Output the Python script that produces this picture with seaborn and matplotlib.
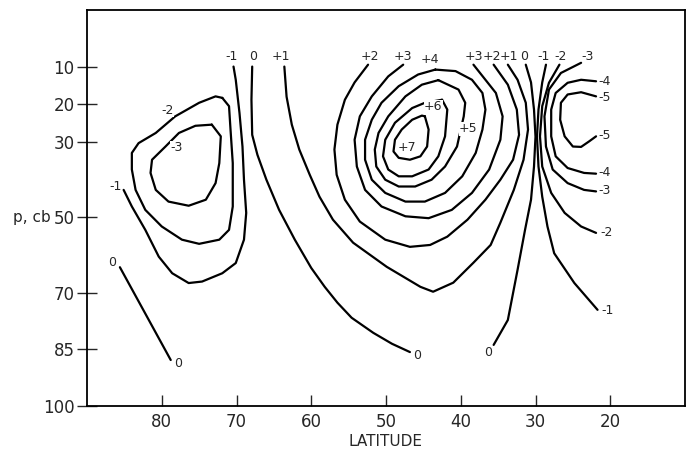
import matplotlib
matplotlib.use('Agg')
import matplotlib.pyplot as plt
import seaborn as sns
import pandas as pd

# contour lines: latitude (deg) and pressure (cb)
lat_m3 = [73.3, 72.1, 72.3, 72.8, 74.1, 76.4, 79.1, 80.8, 81.5, 81.3, 79.5, 77.7, 75.5, 73.3]
p_m3 = [25.4, 28.5, 35.6, 40.9, 45.3, 46.9, 45.8, 42.7, 38.2, 34.7, 31.2, 27.6, 25.7, 25.4]

lat_m2a = [71.9, 71.0, 70.8, 70.5, 70.5, 71.0, 72.3, 75.0, 77.3, 80.0, 82.2, 83.5, 84.0, 84.0, 83.1, 80.8, 78.2, 75.0, 72.8, 71.9]
p_m2a = [18.3, 20.5, 26.7, 35.6, 47.1, 53.3, 55.9, 57.0, 55.9, 52.4, 48.0, 42.7, 37.3, 32.9, 30.3, 27.6, 23.2, 19.6, 17.9, 18.3]

lat_m1a = [85.1, 84.0, 82.2, 80.4, 78.6, 76.4, 74.6, 71.9, 70.1, 69.0, 68.7, 69.0, 69.2, 69.6, 70.1, 70.4]
p_m1a = [42.7, 47.1, 53.3, 60.4, 64.8, 67.4, 67.0, 64.8, 62.1, 55.9, 48.8, 40.0, 31.2, 22.3, 13.5, 10.0]

lat_0a = [85.6, 82.2, 78.8]
p_0a = [63.2, 75.5, 87.8]

lat_0b = [67.9, 68.0, 67.9, 67.2, 66.0, 64.3, 62.2, 60.0, 58.2, 56.5, 54.6, 51.7, 49.2, 46.8]
p_0b = [10.0, 18.8, 28.1, 33.4, 40.0, 48.0, 55.9, 63.4, 68.4, 72.6, 76.6, 80.6, 83.5, 85.7]

lat_p1 = [63.6, 63.3, 62.6, 61.6, 60.2, 58.9, 57.1, 54.4, 49.9, 45.4, 43.7, 41.0, 38.3, 36.0, 34.7, 32.9, 31.6, 31.0, 31.3, 32.4, 33.7]
p_p1 = [10.0, 18.0, 25.4, 32.0, 38.7, 44.5, 50.6, 56.7, 63.1, 68.4, 69.7, 67.3, 62.0, 57.3, 51.4, 42.7, 34.7, 26.7, 19.6, 13.5, 9.5]

lat_p2 = [52.4, 54.2, 55.5, 56.5, 56.9, 56.6, 55.5, 53.5, 50.1, 46.8, 44.1, 41.8, 39.1, 36.7, 34.7, 33.0, 32.2, 32.5, 33.7, 35.6]
p_p2 = [9.5, 14.2, 18.8, 25.4, 32.0, 38.7, 45.3, 51.1, 55.9, 57.8, 57.3, 55.1, 50.6, 45.3, 40.0, 34.7, 28.1, 21.4, 14.8, 9.5]

lat_p3 = [47.7, 49.7, 51.9, 53.5, 54.2, 53.9, 52.8, 50.6, 47.4, 44.3, 41.2, 38.5, 36.2, 34.7, 34.4, 35.3, 36.7, 38.3]
p_p3 = [9.5, 12.6, 17.9, 23.2, 29.4, 36.5, 42.7, 47.1, 49.7, 50.2, 48.0, 43.5, 37.3, 29.4, 23.2, 17.0, 13.5, 9.5]

lat_p4 = [43.4, 40.7, 38.5, 37.1, 36.7, 37.1, 38.0, 39.8, 42.1, 44.8, 47.4, 50.1, 51.9, 52.8, 52.8, 51.9, 50.6, 48.3, 45.7, 43.4]
p_p4 = [10.8, 11.2, 13.5, 17.0, 21.4, 26.7, 32.9, 39.1, 43.5, 45.8, 45.8, 43.5, 40.0, 34.7, 29.4, 24.1, 19.6, 15.2, 12.1, 10.8]

lat_p5 = [43.0, 40.3, 39.4, 39.6, 40.0, 40.5, 42.1, 43.9, 46.1, 48.3, 50.1, 51.3, 51.5, 51.0, 49.7, 47.4, 45.2, 43.0]
p_p5 = [13.6, 16.1, 19.6, 23.2, 26.7, 31.2, 36.5, 40.0, 41.8, 41.8, 40.0, 36.5, 32.0, 27.6, 23.2, 17.9, 14.8, 13.6]

lat_p6 = [42.5, 41.8, 42.1, 43.0, 44.3, 46.5, 48.3, 49.7, 50.4, 50.1, 48.8, 46.5, 44.8, 42.5]
p_p6 = [18.8, 21.4, 28.5, 33.8, 37.3, 39.1, 39.1, 37.3, 33.8, 29.4, 24.9, 21.0, 19.6, 18.8]

lat_p7 = [44.8, 44.3, 44.5, 45.4, 46.8, 48.3, 49.0, 48.8, 47.9, 46.5, 45.2, 44.8]
p_p7 = [23.2, 26.7, 31.2, 33.8, 34.7, 34.2, 32.5, 29.4, 26.7, 24.1, 23.0, 23.2]

lat_0c = [31.3, 30.6, 30.2, 30.0, 30.2, 30.6, 31.4, 32.4, 33.7, 35.6]
p_0c = [9.5, 14.2, 21.4, 28.6, 36.5, 45.3, 53.3, 63.9, 77.2, 83.8]

lat_m1b = [28.6, 29.1, 29.6, 29.8, 29.6, 29.1, 28.4, 27.5, 24.8, 21.7]
p_m1b = [9.5, 14.2, 21.4, 28.6, 36.5, 44.5, 52.4, 59.5, 67.4, 74.5]

lat_m2b = [26.8, 28.2, 29.1, 29.4, 29.1, 27.9, 26.1, 23.9, 21.9]
p_m2b = [9.5, 14.3, 20.5, 28.5, 36.5, 43.5, 48.8, 52.4, 54.1]

lat_m3b = [23.9, 26.6, 28.2, 28.8, 28.6, 27.7, 25.7, 23.5, 21.9]
p_m3b = [9.0, 11.7, 16.1, 23.2, 31.2, 37.3, 40.9, 42.7, 43.1]

lat_m4 = [21.9, 23.9, 25.7, 27.3, 27.9, 27.9, 27.3, 25.7, 23.5, 21.9]
p_m4 = [13.9, 13.5, 14.3, 17.0, 21.4, 28.5, 33.8, 36.9, 38.2, 38.4]

lat_m5 = [21.9, 23.9, 25.7, 26.6, 26.7, 26.1, 25.0, 23.9, 22.8, 21.9]
p_m5 = [17.9, 16.8, 17.4, 19.6, 24.1, 28.5, 31.2, 31.3, 29.8, 28.5]

# contour labels (the last five sit on their lines)
lab_text = ['-1', '0', '+1', '+2', '+3', '+4', '+3', '+2', '+1', '0', '-1', '-2', '-3',
            '-4', '-5', '-5', '-4', '-3', '-2', '-1',
            '-1', '0', '0', '0', '0',
            '-2', '-3', '+6', '+5', '+7']
lab_lat = [70.6, 67.8, 64.0, 52.2, 47.7, 44.1, 38.2, 35.8, 33.5, 31.5, 28.9, 26.6, 23.1,
           20.8, 20.8, 20.8, 20.8, 20.8, 20.5, 20.3,
           86.2, 86.7, 77.8, 45.8, 36.4,
           79.2, 78.0, 43.7, 39.0, 47.2]
lab_p = [7.3, 7.3, 7.3, 7.3, 7.3, 8.1, 7.3, 7.3, 7.3, 7.3, 7.3, 7.3, 7.3,
         14.0, 18.2, 28.3, 38.1, 42.9, 54.1, 74.8,
         41.9, 62.0, 88.6, 86.5, 85.9,
         21.7, 31.5, 20.6, 26.5, 31.5]
n_on_line = 5

x_ticks = [80, 70, 60, 50, 40, 30, 20]
y_ticks = [10, 20, 30, 50, 70, 85, 100]

lines = [(lat_m3, p_m3), (lat_m2a, p_m2a), (lat_m1a, p_m1a), (lat_0a, p_0a),
         (lat_0b, p_0b), (lat_p1, p_p1), (lat_p2, p_p2), (lat_p3, p_p3),
         (lat_p4, p_p4), (lat_p5, p_p5), (lat_p6, p_p6), (lat_p7, p_p7),
         (lat_0c, p_0c), (lat_m1b, p_m1b), (lat_m2b, p_m2b), (lat_m3b, p_m3b),
         (lat_m4, p_m4), (lat_m5, p_m5)]
rows = []
for i, (la, pp) in enumerate(lines):
    for a, b in zip(la, pp):
        rows.append((i, a, b))
df = pd.DataFrame(rows, columns=['seg', 'lat', 'p'])

sns.set_style('white')
plt.rcParams['font.family'] = ['DejaVu Sans']

fig = plt.figure(figsize=(6.92, 4.54), dpi=100)
ax = fig.add_axes([87 / 692, 1 - 406 / 454, 598 / 692, 396 / 454])

sns.lineplot(data=df, x='lat', y='p', units='seg', estimator=None, sort=False,
             color='black', lw=1.6, ax=ax, legend=False)
for ln in ax.get_lines():
    ln.set_solid_joinstyle('round')
    ln.set_solid_capstyle('round')

n_lab = len(lab_text)
for k, (t, a, b) in enumerate(zip(lab_text, lab_lat, lab_p)):
    if k >= n_lab - n_on_line:
        ax.text(a, b, t, fontsize=9, ha='center', va='center',
                bbox=dict(fc='white', ec='none', pad=0.2))
    else:
        ax.text(a, b, t, fontsize=9, ha='center', va='center')

ax.set_xlim(90, 10)
ax.set_ylim(100, -5)
ax.set_xticks(x_ticks)
ax.set_yticks(y_ticks)
ax.tick_params(axis='x', direction='in', length=8, width=1, labelsize=12, pad=5,
               bottom=True)
ax.tick_params(axis='y', direction='inout', length=14, width=1, labelsize=12, pad=2,
               left=True)
for s in ax.spines.values():
    s.set_linewidth(1.3)
    s.set_color('black')

ax.set_xlabel('LATITUDE', fontsize=11, labelpad=2)
ax.set_ylabel('p, cb', fontsize=11, rotation=0, ha='center', va='center')
ax.yaxis.set_label_coords(-0.092, 0.475)

fig.savefig('out.png', dpi=100)
